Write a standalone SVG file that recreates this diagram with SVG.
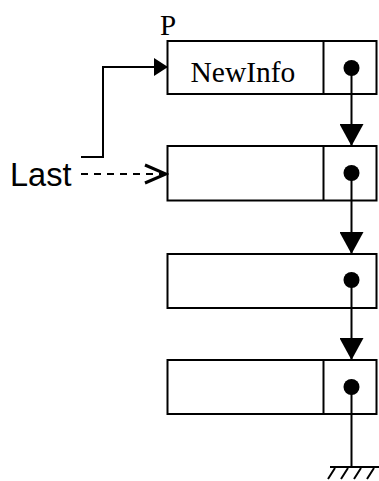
<svg xmlns="http://www.w3.org/2000/svg" width="379" height="481" viewBox="0 0 379 481">
<style>
.box{fill:#fff;stroke:#000;stroke-width:2}
.ln{fill:none;stroke:#000;stroke-width:2}
.dot{fill:#000}
.serif{font-family:"Liberation Serif","Times New Roman",serif;fill:#000}
.sans{font-family:"Liberation Sans",Arial,sans-serif;fill:#000}
</style>
<defs>
<marker id="tri" markerUnits="userSpaceOnUse" markerWidth="24" markerHeight="24" viewBox="0 0 24 24" refX="22" refY="12" orient="auto">
<path d="M0,0 L22,12 L0,24 Z" fill="#000"/>
</marker>
<marker id="tri2" markerUnits="userSpaceOnUse" markerWidth="16" markerHeight="18" viewBox="0 0 16 18" refX="14" refY="9" orient="auto">
<path d="M0,0 L14,9 L0,18 Z" fill="#000"/>
</marker>
<marker id="open" markerUnits="userSpaceOnUse" markerWidth="26" markerHeight="22" viewBox="0 0 26 22" refX="24" refY="11" orient="auto">
<path d="M2,2 L23,11 L2,20" fill="none" stroke="#000" stroke-width="3"/>
</marker>
</defs>
<text class="serif" x="160" y="35" font-size="29">P</text>
<g id="node1">
<rect class="box" x="167.5" y="41" width="209" height="53"/>
<line class="ln" x1="323.5" y1="41" x2="323.5" y2="94"/>
<text class="serif" x="190.5" y="82" font-size="29.5">NewInfo</text>
<circle class="dot" cx="351.5" cy="68" r="8"/>
</g>
<g id="node2">
<rect class="box" x="167.5" y="146" width="209" height="54.5"/>
<line class="ln" x1="323.5" y1="146" x2="323.5" y2="200.5"/>
<circle class="dot" cx="351.5" cy="173" r="8"/>
</g>
<g id="node3">
<rect class="box" x="167.5" y="254" width="209" height="54"/>
<circle class="dot" cx="351.5" cy="280" r="8"/>
</g>
<g id="node4">
<rect class="box" x="167.5" y="360" width="209" height="54"/>
<line class="ln" x1="323.5" y1="360" x2="323.5" y2="414"/>
<circle class="dot" cx="351.5" cy="387" r="8"/>
</g>
<g id="last">
<text class="sans" x="10" y="186" font-size="32.5">Last</text>
</g>
<g id="ground">
<line class="ln" x1="330" y1="467" x2="379" y2="467"/>
<path class="ln" stroke-width="1.6" d="M335,468 L328,479 M348,468 L341,479 M361,468 L354,479 M374,468 L367,479"/>
</g>
<g id="connectors">
<line class="ln" x1="351.5" y1="68" x2="351.5" y2="146" marker-end="url(#tri)"/>
<line class="ln" x1="351.5" y1="173" x2="351.5" y2="254" marker-end="url(#tri)"/>
<line class="ln" x1="351.5" y1="280" x2="351.5" y2="360" marker-end="url(#tri)"/>
<line class="ln" x1="351.5" y1="387" x2="351.5" y2="467"/>
<polyline class="ln" points="81,157 103,157 103,67 168,67" marker-end="url(#tri2)"/>
<line class="ln" x1="81" y1="174" x2="167" y2="174" stroke-dasharray="7,6" marker-end="url(#open)"/>
</g>
</svg>
